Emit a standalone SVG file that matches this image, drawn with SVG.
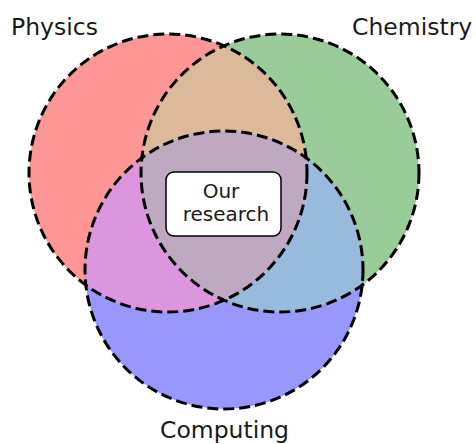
<svg xmlns="http://www.w3.org/2000/svg" width="476" height="444" viewBox="0 0 476 444">
<style>
.lbl{font-family:"DejaVu Sans",sans-serif;font-size:23.5px;fill:#1a1a1a;}
.box{font-family:"DejaVu Sans",sans-serif;font-size:20px;fill:#1a1a1a;text-anchor:middle;}
.ring{fill:none;stroke:#000;stroke-width:3;stroke-dasharray:11 5;}
</style>
<defs>
<clipPath id="cP"><circle cx="168" cy="173" r="139"/></clipPath>
<clipPath id="cC"><circle cx="280" cy="173" r="139"/></clipPath>
<clipPath id="cM"><circle cx="224" cy="270" r="139"/></clipPath>
</defs>
<rect width="476" height="444" fill="#fff"/>
<g id="physics">
<circle cx="168" cy="173" r="139" fill="#fe9696"/>
</g>
<g id="chemistry">
<circle cx="280" cy="173" r="139" fill="#99cc99"/>
</g>
<g id="computing">
<circle cx="224" cy="270" r="139" fill="#9898fc"/>
</g>
<g id="overlaps">
<g clip-path="url(#cP)"><circle cx="280" cy="173" r="139" fill="#dcb998"/></g>
<g clip-path="url(#cP)"><circle cx="224" cy="270" r="139" fill="#dc96dd"/></g>
<g clip-path="url(#cC)"><circle cx="224" cy="270" r="139" fill="#98badd"/></g>
<g clip-path="url(#cP)"><g clip-path="url(#cC)"><circle cx="224" cy="270" r="139" fill="#bea9c0"/></g></g>
</g>
<g id="outlines">
<circle class="ring" cx="168" cy="173" r="139"/>
<circle class="ring" cx="280" cy="173" r="139"/>
<circle class="ring" cx="224" cy="270" r="139"/>
</g>
<g id="labels">
<text class="lbl" x="11" y="35">Physics</text>
<text class="lbl" x="352" y="35">Chemistry</text>
<text class="lbl" x="224.5" y="438" text-anchor="middle">Computing</text>
</g>
<g id="our-research">
<rect x="166" y="172" width="115" height="64" rx="8" ry="8" fill="#fff" stroke="#000" stroke-width="1.5"/>
<text class="box" x="221" y="198">Our</text>
<text class="box" x="226" y="221">research</text>
</g>
</svg>
